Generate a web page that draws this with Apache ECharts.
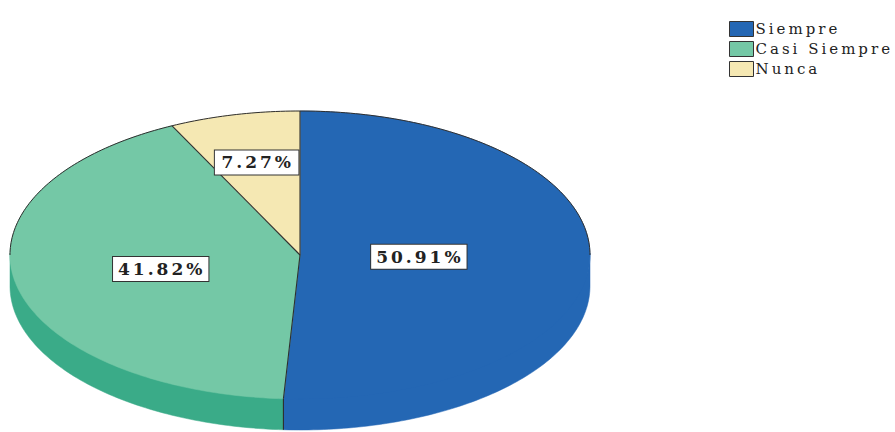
<!DOCTYPE html>
<html>
<head>
<meta charset="utf-8">
<script src="https://cdn.jsdelivr.net/npm/echarts@6/dist/echarts.min.js"></script>
<style>
  html, body { margin: 0; padding: 0; background: #fff; }
  #chart { width: 895px; height: 432px; }
  /* wide, typewriter-like spacing for all chart text */
  #chart text { letter-spacing: 3px; }
</style>
</head>
<body>
<div id="chart"></div>
<script>
// Categories and their shares (%)
const categories = ['Siempre', 'Casi Siempre', 'Nunca'];
const percentages = [50.91, 41.82, 7.27];

// Styling: top face colour, side (depth) colour, label distance from centre
const topColors = ['#2467b4', '#74c8a6', '#f5e8b3'];
const sideColors = ['#2467b4', '#3aab88', '#d8cb8f'];
const labelRadius = [0.41, 0.49, 0.66];

// Elliptical "3D" pie geometry
const PIE = { cx: 300, cy: 255, rx: 290, ry: 144, depth: 31 };
const TWO_PI = Math.PI * 2;

const total = percentages.reduce((s, v) => s + v, 0);

// angle measured clockwise from 12 o'clock
function pt(theta, dy) {
  return [PIE.cx + PIE.rx * Math.sin(theta), PIE.cy - PIE.ry * Math.cos(theta) + (dy || 0)];
}
function arcPoints(a, b, dy) {
  const n = Math.max(2, Math.ceil((b - a) / (Math.PI / 180)));
  const out = [];
  for (let i = 0; i <= n; i++) out.push(pt(a + (b - a) * i / n, dy));
  return out;
}
function clip(a, b, lo, hi) {
  const s = Math.max(a, lo), e = Math.min(b, hi);
  return s < e ? [s, e] : null;
}

function makeRenderItem(idx) {
  return function (params, api) {
    const value = api.value(0);
    let before = 0;
    for (let i = 0; i < idx; i++) before += percentages[i];
    const a = before / total * TWO_PI;
    const b = a + value / total * TWO_PI;
    const children = [];

    // front wall of the slice (visible only on the lower half)
    const front = clip(a, b, Math.PI / 2, Math.PI * 1.5);
    if (front) {
      const upper = arcPoints(front[0], front[1], -2);
      const lower = arcPoints(front[0], front[1], PIE.depth).reverse();
      children.push({
        type: 'polygon', z2: 1,
        shape: { points: upper.concat(lower) },
        style: { fill: sideColors[idx], stroke: sideColors[idx], lineWidth: 0.5 }
      });
    }

    // top face
    children.push({
      type: 'polygon', z2: 5,
      shape: { points: [[PIE.cx, PIE.cy]].concat(arcPoints(a, b, 0)) },
      style: { fill: topColors[idx], stroke: topColors[idx], lineWidth: 0.5 }
    });

    // dark rim along the back edge
    [clip(a, b, 0, Math.PI / 2), clip(a, b, Math.PI * 1.5, TWO_PI)].forEach(r => {
      if (!r) return;
      children.push({
        type: 'polyline', z2: 8,
        shape: { points: arcPoints(r[0], r[1], 0) },
        style: { fill: null, stroke: '#2e2e2e', lineWidth: 1 }
      });
    });

    // radial divider at the slice start, continued down the wall when in front
    const s0 = pt(a, 0);
    children.push({
      type: 'line', z2: 8,
      shape: { x1: PIE.cx, y1: PIE.cy, x2: s0[0], y2: s0[1] },
      style: { stroke: '#2e2e2e', lineWidth: 1.1 }
    });
    if (a > Math.PI / 2 && a < Math.PI * 1.5) {
      const s1 = pt(a, PIE.depth);
      children.push({
        type: 'line', z2: 8,
        shape: { x1: s0[0], y1: s0[1], x2: s1[0], y2: s1[1] },
        style: { stroke: '#2e2e2e', lineWidth: 1.1 }
      });
    }

    // value label in a boxed tag
    const mid = (a + b) / 2;
    const k = labelRadius[idx];
    children.push({
      type: 'text', z2: 10,
      x: PIE.cx + k * PIE.rx * Math.sin(mid),
      y: PIE.cy - k * PIE.ry * Math.cos(mid),
      style: {
        text: value.toFixed(2) + '%',
        font: 'bold 17px "DejaVu Serif"',
        fill: '#222222',
        align: 'center',
        verticalAlign: 'middle',
        backgroundColor: '#ffffff',
        borderColor: '#333333',
        borderWidth: 1,
        padding: [4, 12, 3, 14]
      }
    });

    return { type: 'group', children: children };
  };
}

const chart = echarts.init(document.getElementById('chart'), null, { renderer: 'svg' });

chart.setOption({
  backgroundColor: '#ffffff',
  animation: false,
  legend: {
    data: categories,
    orient: 'vertical',
    left: 724,
    top: 16,
    itemWidth: 24,
    itemHeight: 15,
    itemGap: 4,
    icon: 'rect',
    itemStyle: { borderColor: '#333333', borderWidth: 1 },
    textStyle: { fontFamily: 'DejaVu Serif', fontSize: 15, color: '#222222', padding: [0, 0, 0, -3] }
  },
  series: categories.map((name, i) => ({
    type: 'custom',
    name: name,
    coordinateSystem: 'none',
    itemStyle: { color: topColors[i] },
    data: [[percentages[i]]],
    renderItem: makeRenderItem(i)
  }))
});
</script>
</body>
</html>
